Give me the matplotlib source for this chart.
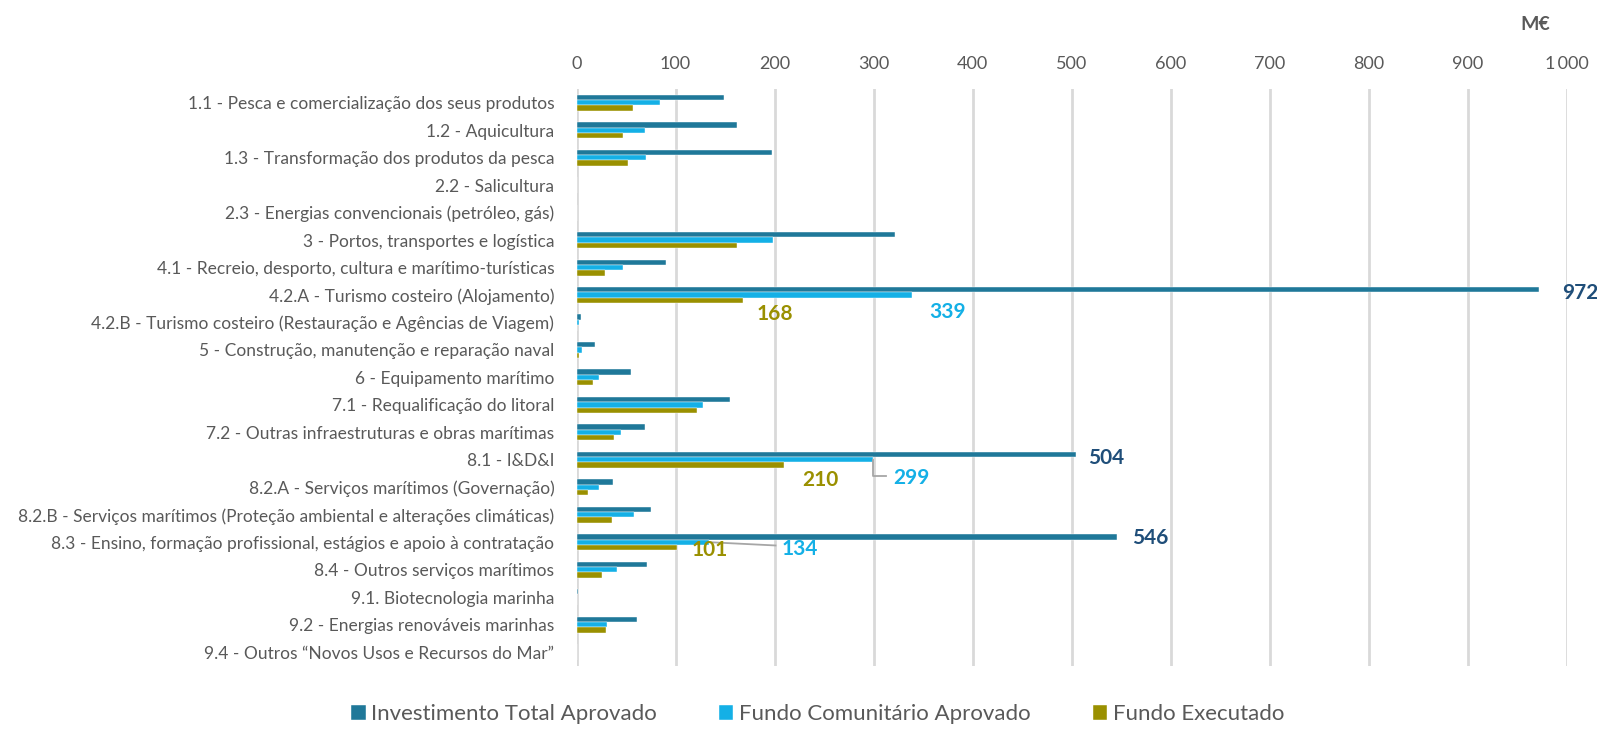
import numpy as np
import matplotlib.pyplot as plt

plt.rcParams['font.family'] = ['Lato', 'DejaVu Sans']

categorias = [
    "1.1 - Pesca e comercialização dos seus produtos",
    "1.2 - Aquicultura",
    "1.3 - Transformação dos produtos da pesca",
    "2.2 - Salicultura",
    "2.3 - Energias convencionais (petróleo, gás)",
    "3 - Portos, transportes e logística",
    "4.1 - Recreio, desporto, cultura e marítimo-turísticas",
    "4.2.A - Turismo costeiro (Alojamento)",
    "4.2.B - Turismo costeiro (Restauração e Agências de Viagem)",
    "5 - Construção, manutenção e reparação naval",
    "6 - Equipamento marítimo",
    "7.1 - Requalificação do litoral",
    "7.2 - Outras infraestruturas e obras marítimas",
    "8.1 - I&D&I",
    "8.2.A - Serviços marítimos (Governação)",
    "8.2.B - Serviços marítimos (Proteção ambiental e alterações climáticas)",
    "8.3 - Ensino, formação profissional, estágios e apoio à contratação",
    "8.4 - Outros serviços marítimos",
    "9.1. Biotecnologia marinha",
    "9.2 - Energias renováveis marinhas",
    "9.4 - Outros \u201cNovos Usos e Recursos do Mar\u201d",
]

invest_total = [149, 162, 197, 0.5, 0, 322, 90, 972, 5, 19, 55, 155, 69, 504,
                37, 75, 546, 71, 2, 61, 0]
fundo_comunitario = [84, 69, 70, 0.3, 0, 198, 47, 339, 3, 6, 23, 128, 45, 299,
                     23, 58, 134, 41, 0.5, 31, 0]
fundo_executado = [57, 47, 52, 0, 0, 162, 29, 168, 0.5, 3, 17, 122, 38, 210,
                   12, 36, 101, 26, 0, 30, 0]

series_nomes = ["Investimento Total Aprovado", "Fundo Comunitário Aprovado", "Fundo Executado"]
cores = ["#1F7899", "#14B0E6", "#9A9000"]
cores_rotulo = ["#1F4E79", "#14B0E6", "#9A9000"]

# rotulos mostrados (indice da categoria)
rotulados = [7, 13, 16]

fig = plt.figure(figsize=(15.97, 7.30), dpi=100)
ax = fig.add_axes([0.361, 0.088, 0.620, 0.790])

y = np.arange(len(categorias))
h = 0.195
for k, (vals, nome, c) in enumerate(zip([invest_total, fundo_comunitario, fundo_executado], series_nomes, cores)):
    ax.barh(y + (k - 1) * h, vals, height=h, color=c, label=nome,
            edgecolor='white', linewidth=0.3, zorder=3)

ax.set_xlim(0, 1000)
ax.set_ylim(len(categorias) - 0.5, -0.5)
ax.xaxis.tick_top()
ticks = np.arange(0, 1001, 100)
ax.set_xticks(ticks)
ax.set_xticklabels([f"{t:,}".replace(",", "\u2009") if t >= 1000 else str(t) for t in ticks])
ax.tick_params(axis='x', length=0, labelsize=13, labelcolor='#595959', pad=12)
ax.set_yticks(y)
ax.set_yticklabels(categorias)
ax.tick_params(axis='y', length=0, labelsize=12.5, labelcolor='#595959', pad=16)
ax.grid(axis='x', color='#D9D9D9', linewidth=2, zorder=0)
for s in ax.spines.values():
    s.set_visible(False)

fig.text(0.952, 0.966, "M€", fontsize=14, fontweight='bold', color='#595959', ha='left', va='center')

# rotulos de dados (deslocamento x, deslocamento y)
desloc = {
    7: [(42, -0.07), (36, 0.6), (32, 0.7)],
    13: [(31, -0.07), (39, 0.66), (36, 0.73)],
    16: [(33, -0.15), (91, 0.25), (34, 0.3)],
}
for i in rotulados:
    for k, vals in enumerate([invest_total, fundo_comunitario, fundo_executado]):
        dx, dy = desloc[i][k]
        ax.text(vals[i] + dx, i + dy, str(vals[i]), color=cores_rotulo[k], fontsize=15,
                fontweight='bold', ha='center', va='center', clip_on=False, zorder=5)

# linhas de chamada
v = fundo_comunitario[13]
ax.plot([v, v, v + 14], [13, 13 + 0.58, 13 + 0.58], color='#A6A6A6', lw=1.3, zorder=4)
v = fundo_comunitario[16]
ax.plot([v, v + 67], [16, 16 + 0.12], color='#A6A6A6', lw=1.3, zorder=4)

leg = fig.legend(loc='center', bbox_to_anchor=(0.512, 0.022), ncol=3, frameon=False,
                 fontsize=16, handlelength=0.65, handleheight=0.65, handletextpad=0.25,
                 columnspacing=2.8)
for t in leg.get_texts():
    t.set_color('#595959')

fig.savefig("out.png", dpi=100)
